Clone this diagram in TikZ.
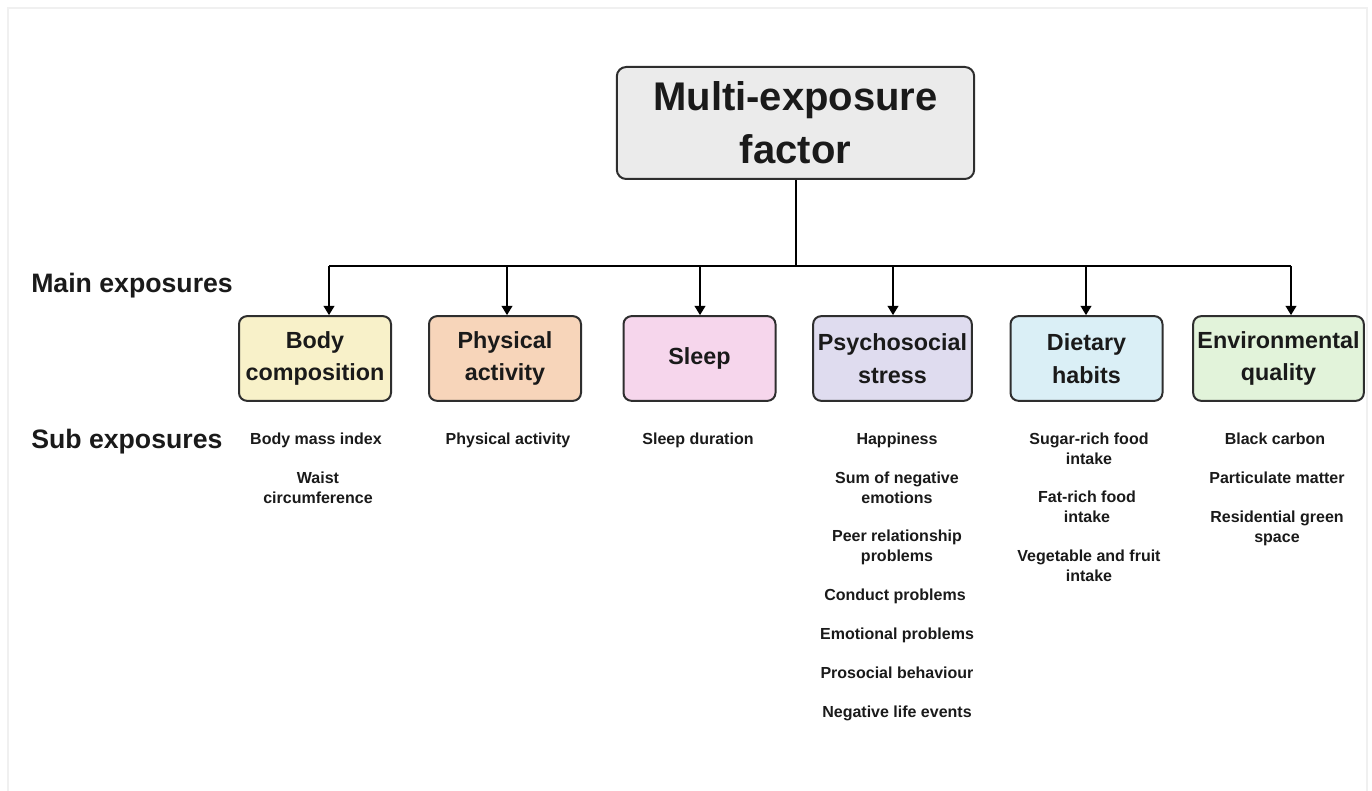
\documentclass[tikz,border=0pt]{standalone}
\usepackage{fontspec}
\setmainfont{Liberation Sans}
\usetikzlibrary{arrows.meta}
\definecolor{txt}{HTML}{1A1A1A}
\definecolor{edge}{HTML}{2E2E2E}
\definecolor{topfill}{HTML}{EBEBEB}
\definecolor{cbody}{HTML}{F8F1C9}
\definecolor{cphys}{HTML}{F7D5BA}
\definecolor{csleep}{HTML}{F6D6EC}
\definecolor{cpsy}{HTML}{DFDCEF}
\definecolor{cdiet}{HTML}{DAEFF6}
\definecolor{cenv}{HTML}{E2F3DA}
\begin{document}
\begin{tikzpicture}[x=0.75pt,y=-0.75pt,
  conn/.style={draw=black,line width=1.5pt},
  arr/.style={conn,-{Triangle[width=8pt,length=7pt]}},
  mainbox/.style={draw=edge,line width=1.5pt,rounded corners=6pt,minimum width=114pt,minimum height=63.5pt,inner sep=0pt,align=center,font=\bfseries\fontsize{17.5}{24.5}\selectfont,text=txt},
  topbox/.style={draw=edge,line width=1.5pt,rounded corners=7pt,fill=topfill,minimum width=268pt,minimum height=84pt,inner sep=0pt,align=center,font=\bfseries\fontsize{30}{40}\selectfont,text=txt},
  sub/.style={anchor=north,inner sep=0pt,align=center,font=\bfseries\fontsize{12}{14.6}\selectfont,text=txt},
  side/.style={anchor=base west,inner sep=0pt,font=\bfseries\fontsize{20}{24}\selectfont,text=txt}]
\useasboundingbox (0,0) rectangle (1372,791);
\draw[gray!12,line width=0.8pt] (8,800) -- (8,8) -- (1367,8) -- (1367,800);

\node[topbox] (top) at (795.5,123) {Multi-exposure\\factor};

\node[side] (mainlab) at (31,293) {Main exposures};
\node[side] (sublab) at (31,449) {Sub exposures};

\node[mainbox,fill=cbody]  (body)  at (315,358.5) {Body\\composition};
\node[mainbox,fill=cphys]  (phys)  at (505,358.5) {Physical\\activity};
\node[mainbox,fill=csleep] (sleep) at (699.5,358.5) {Sleep};
\node[mainbox,fill=cpsy,minimum width=119pt]   (psy)   at (892.5,358.5) {Psychosocial\\stress};
\node[mainbox,fill=cdiet]  (diet)  at (1086.5,358.5) {Dietary\\habits};
\node[mainbox,fill=cenv,minimum width=128pt]   (env)   at (1278.5,358.5) {Environmental\\quality};

\coordinate (a1) at (329,266);
\coordinate (a2) at (507,266);
\coordinate (a3) at (700,266);
\coordinate (a4) at (893,266);
\coordinate (a5) at (1086,266);
\coordinate (a6) at (1291,266);

\draw[conn] (top.south) -- (top.south |- a1);
\draw[conn] (a1) -- (a6);
\draw[arr] (a1) -- (a1 |- body.north);
\draw[arr] (a2) -- (a2 |- phys.north);
\draw[arr] (a3) -- (a3 |- sleep.north);
\draw[arr] (a4) -- (a4 |- psy.north);
\draw[arr] (a5) -- (a5 |- diet.north);
\draw[arr] (a6) -- (a6 |- env.north);

% sub exposures
\node[sub] (b1) at (316,433) {Body mass index};
\node[sub] (b2) at (318,472) {Waist\\circumference};

\node[sub] (p1) at (508,433) {Physical activity};

\node[sub] (s1) at (698,433) {Sleep duration};

\node[sub] (q1) at (897,433) {Happiness};
\node[sub] (q2) at (897,472) {Sum of negative\\emotions};
\node[sub] (q3) at (897,530) {Peer relationship\\problems};
\node[sub] (q4) at (895,589) {Conduct problems};
\node[sub] (q5) at (897,628) {Emotional problems};
\node[sub] (q6) at (897,667) {Prosocial behaviour};
\node[sub] (q7) at (897,706) {Negative life events};

\node[sub] (d1) at (1089,433) {Sugar-rich food\\intake};
\node[sub] (d2) at (1087,491) {Fat-rich food\\intake};
\node[sub] (d3) at (1089,550) {Vegetable and fruit\\intake};

\node[sub] (e1) at (1275,433) {Black carbon};
\node[sub] (e2) at (1277,472) {Particulate matter};
\node[sub] (e3) at (1277,511) {Residential green\\space};
\end{tikzpicture}
\end{document}
